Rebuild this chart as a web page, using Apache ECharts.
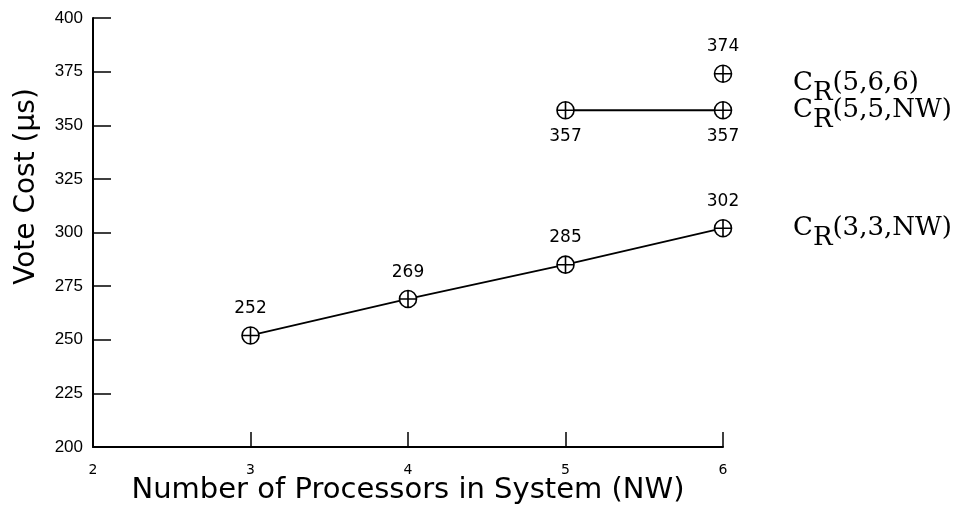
<!DOCTYPE html>
<html>
<head>
<meta charset="utf-8">
<script src="https://cdn.jsdelivr.net/npm/echarts@6/dist/echarts.min.js"></script>
<style>
  html, body { margin: 0; padding: 0; background: #fff; }
  #chart { width: 956px; height: 505px; }
</style>
</head>
<body>
<div id="chart"></div>
<script>
// Vote cost against number of processors, three replication configurations
const xTicks = [2, 3, 4, 5, 6];
const yTicks = [200, 225, 250, 275, 300, 325, 350, 375, 400];

const procs33 = [3, 4, 5, 6];
const cost33 = [252, 269, 285, 302];

const procs55 = [5, 6];
const cost55 = [357, 357];

const procs566 = [6];
const cost566 = [374];

const seriesNames = [
  { sub: 'R', args: '(3,3,NW)' },
  { sub: 'R', args: '(5,5,NW)' },
  { sub: 'R', args: '(5,6,6)' }
];

// circle with a cross through it
const crossCircle = 'path://M0,-10A10,10 0 1,1 0,10A10,10 0 1,1 0,-10ZM-10,0L10,0M0,-10L0,10';

function pairs(xs, ys) {
  return xs.map((x, i) => [x, ys[i]]);
}

const seriesFont = 'DejaVu Serif';
const endRich = {
  c: { fontFamily: seriesFont, fontSize: 26, color: '#000', lineHeight: 46, verticalAlign: 'middle' },
  r: { fontFamily: seriesFont, fontSize: 26, color: '#000', lineHeight: 46, verticalAlign: 'bottom' },
  p: { fontFamily: seriesFont, fontSize: 26, color: '#000', lineHeight: 46, verticalAlign: 'middle' }
};

function makeSeries(xs, ys, nameInfo, labelPos, nameShift) {
  return {
    type: 'line',
    data: pairs(xs, ys),
    symbol: crossCircle,
    symbolSize: 17,
    showAllSymbol: true,
    lineStyle: { color: '#000', width: 1.8 },
    itemStyle: { color: '#fff', borderColor: '#000', borderWidth: 1.6 },
    label: {
      show: true,
      position: labelPos,
      distance: 9,
      fontFamily: 'DejaVu Sans',
      fontSize: 17,
      color: '#000',
      formatter: p => String(p.value[1])
    },
    endLabel: {
      show: true,
      distance: 70,
      offset: [0, nameShift],
      formatter: () => '{c|C}{r|' + nameInfo.sub + '}{p|' + nameInfo.args + '}',
      rich: endRich
    },
    z: 3
  };
}

const chart = echarts.init(document.getElementById('chart'), null, { renderer: 'canvas' });

chart.setOption({
  animation: false,
  backgroundColor: '#fff',
  grid: { left: 93, right: 233, top: 18, bottom: 58, containLabel: false, outerBoundsMode: 'none' },
  xAxis: {
    type: 'value',
    min: xTicks[0],
    max: xTicks[xTicks.length - 1],
    interval: 1,
    name: 'Number of Processors in System (NW)',
    nameLocation: 'middle',
    nameGap: 29,
    nameMoveOverlap: false,
    nameTextStyle: { fontFamily: 'DejaVu Sans', fontSize: 29, color: '#000', fontWeight: 'normal' },
    axisLine: { show: true, lineStyle: { color: '#000', width: 2 } },
    axisTick: { show: true, inside: true, length: 15, lineStyle: { color: '#000', width: 1.5 } },
    axisLabel: { fontFamily: 'DejaVu Sans', fontSize: 14, color: '#000', margin: 16 },
    splitLine: { show: false }
  },
  yAxis: {
    type: 'value',
    min: yTicks[0],
    max: yTicks[yTicks.length - 1],
    interval: 25,
    name: 'Vote Cost (\u03bcs)',
    nameLocation: 'middle',
    nameGap: 52,
    nameMoveOverlap: false,
    nameTextStyle: { fontFamily: 'DejaVu Sans', fontSize: 28, color: '#000', padding: [0, 0, 0, 92] },
    axisLine: { show: true, lineStyle: { color: '#000', width: 2 } },
    axisTick: { show: true, inside: true, length: 18, lineStyle: { color: '#000', width: 1.5 } },
    axisLabel: { fontFamily: 'Liberation Sans', fontSize: 17, color: '#000', margin: 10 },
    splitLine: { show: false }
  },
  series: [
    makeSeries(procs33, cost33, seriesNames[0], 'top', 0),
    makeSeries(procs55, cost55, seriesNames[1], 'bottom', 0),
    makeSeries(procs566, cost566, seriesNames[2], 'top', 9)
  ]
});
</script>
</body>
</html>
